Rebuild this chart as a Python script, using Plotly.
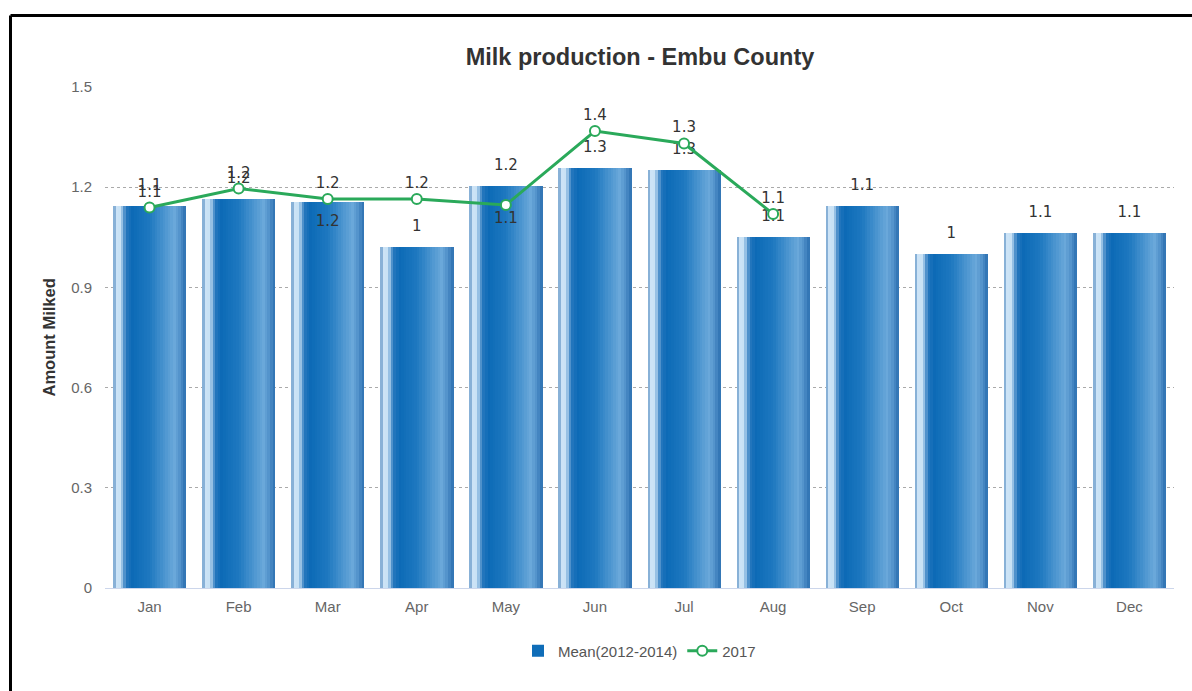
import plotly.graph_objects as go

# Monthly milk yield, Embu County
months = ["Jan", "Feb", "Mar", "Apr", "May", "Jun", "Jul", "Aug", "Sep", "Oct", "Nov", "Dec"]
mean_2012_2014 = [1.144, 1.165, 1.155, 1.022, 1.205, 1.257, 1.252, 1.052, 1.144, 1.0, 1.062, 1.062]
months_2017 = ["Jan", "Feb", "Mar", "Apr", "May", "Jun", "Jul", "Aug"]
values_2017 = [1.139, 1.196, 1.165, 1.165, 1.147, 1.368, 1.331, 1.12]

y_ticks = [0, 0.3, 0.6, 0.9, 1.2, 1.5]

W, H = 1192, 691
ML, MR, MT, MB = 105, 18, 87, 103
PW, PH = W - ML - MR, H - MT - MB

BAR_W = 0.82
GREEN = "#2aa95a"
LABEL_FONT = dict(family="DejaVu Sans", size=15, color="#333333")

# Horizontal shading of the bars (position across bar -> colour)
stops = [
    (0.00, (80, 135, 190)),
    (0.04, (205, 228, 246)),
    (0.10, (200, 225, 245)),
    (0.18, (40, 120, 190)),
    (0.26, (12, 106, 182)),
    (0.50, (30, 120, 192)),
    (0.84, (106, 168, 218)),
    (0.91, (84, 148, 204)),
    (1.00, (44, 112, 176)),
]


def shade(t):
    for (t0, c0), (t1, c1) in zip(stops, stops[1:]):
        if t0 <= t <= t1:
            f = (t - t0) / (t1 - t0) if t1 > t0 else 0
            r, g, b = (round(a + (b_ - a) * f) for a, b_ in zip(c0, c1))
            return f"rgb({r},{g},{b})"
    return "rgb(44,112,176)"


fig = go.Figure()

N_STRIPES = 28
sw = BAR_W / N_STRIPES
for k in range(N_STRIPES):
    t = (k + 0.5) / N_STRIPES
    fig.add_trace(go.Bar(
        x=months, y=mean_2012_2014,
        width=sw * 1.08, offset=-BAR_W / 2 + k * sw,
        marker=dict(color=shade(t), line=dict(width=0)),
        name="Mean(2012-2014)",
        showlegend=(k == 8),
        legendgroup="mean",
        hoverinfo="skip",
    ))

# Value labels for the mean bars
bar_pos = ["top center"] * len(months)
bar_pos[months.index("Mar")] = "bottom center"
fig.add_trace(go.Scatter(
    x=months, y=mean_2012_2014,
    mode="markers+text",
    marker=dict(size=18, opacity=0),
    texttemplate="%{y:.2~r}",
    textposition=bar_pos,
    textfont=LABEL_FONT,
    cliponaxis=False,
    showlegend=False,
    hoverinfo="skip",
))

line_pos = ["top center"] * len(months_2017)
line_pos[months_2017.index("May")] = "bottom center"
fig.add_trace(go.Scatter(
    x=months_2017, y=values_2017,
    mode="lines+markers+text",
    name="2017",
    line=dict(color=GREEN, width=3),
    marker=dict(size=10, color="white", line=dict(color=GREEN, width=2)),
    texttemplate="%{y:.2~r}",
    textposition=line_pos,
    textfont=LABEL_FONT,
    cliponaxis=False,
))

# Frame lines along the top and left of the card
fx = (10.5 - ML) / PW
fy = (H - MB - 15.5) / PH
frame = dict(color="black", width=3)
fig.add_shape(type="line", xref="paper", yref="paper", x0=fx, x1=fx, y0=-0.3, y1=fy, line=frame)
fig.add_shape(type="line", xref="paper", yref="paper", x0=fx, x1=1.2, y0=fy, y1=fy, line=frame)

fig.add_annotation(
    text="<b>Amount Milked</b>", textangle=-90,
    xref="paper", yref="paper", x=(48 - ML) / PW, y=0.5,
    xanchor="center", yanchor="middle", showarrow=False,
    font=dict(family="Liberation Sans", size=16.5, color="#333333"),
)

fig.update_layout(
    width=W, height=H,
    margin=dict(l=ML, r=MR, t=MT, b=MB),
    paper_bgcolor="white", plot_bgcolor="white",
    barmode="overlay",
    bargap=0,
    font=dict(family="Liberation Sans", size=15, color="#666666"),
    title=dict(
        text="<b>Milk production - Embu County</b>",
        x=640 / W, xanchor="center", xref="container",
        y=1 - 57 / H, yanchor="middle", yref="container",
        font=dict(family="Liberation Sans", size=23.5, color="#333333"),
    ),
    xaxis=dict(
        type="category", categoryorder="array", categoryarray=months,
        range=[-0.5, 11.5],
        showgrid=False, showline=True, linecolor="#ccd6eb", linewidth=1,
        ticks="", ticklabelstandoff=5,
        tickfont=dict(size=15, color="#666666"),
        zeroline=False,
    ),
    yaxis=dict(
        range=[0, 1.5], tickvals=y_ticks, ticktext=[f"{v:g}" for v in y_ticks],
        showgrid=True, gridcolor="#aaaaaa", griddash="dot", gridwidth=1,
        zeroline=False, showline=False, ticks="", ticklabelstandoff=12,
        tickfont=dict(size=15, color="#666666"),
    ),
    legend=dict(
        orientation="h", x=0.5, xanchor="center",
        y=(H - MB - 651) / PH, yanchor="middle",
        font=dict(size=15, color="#555555"),
        itemwidth=30,
    ),
    showlegend=True,
)

fig.write_html("out.html")
